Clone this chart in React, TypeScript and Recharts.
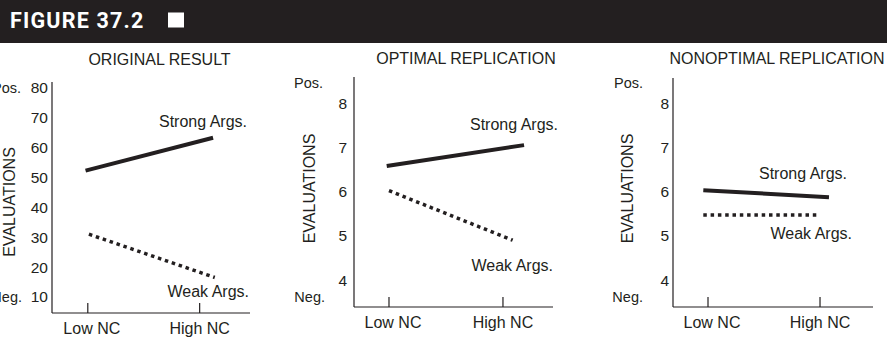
import { LineChart, Line, XAxis, YAxis } from "recharts";

// x positions: 1 = Low NC, 2 = High NC
const ncTicks = [1, 2];
const ncLabels = ["Low NC", "High NC"];

// ORIGINAL RESULT (0-80 scale)
const origTicks = [10, 20, 30, 40, 50, 60, 70, 80];
const origStrongX = [0.98, 2.12];
const origStrongY = [52.3, 63.3];
const origWeakX = [1.01, 2.135];
const origWeakY = [31.0, 16.5];

// OPTIMAL REPLICATION (4-8 scale)
const repTicks = [4, 5, 6, 7, 8];
const optStrongX = [0.98, 2.185];
const optStrongY = [6.58, 7.05];
const optWeakX = [1.0, 2.085];
const optWeakY = [6.02, 4.9];

// NONOPTIMAL REPLICATION
const nonStrongX = [0.958, 2.08];
const nonStrongY = [6.03, 5.87];
const nonWeakX = [0.958, 2.0];
const nonWeakY = [5.47, 5.47];

const INK = "#231f20";
const FONT = "'Liberation Sans', Arial, Helvetica, sans-serif";
const H = 355;

const toRows = (xs: number[], ys: number[]) =>
  xs.map((x, i) => ({ x, y: ys[i] }));

function NcTick(props: any) {
  const { x, payload, index, axisY } = props;
  return (
    <g>
      <line x1={x} x2={x} y1={axisY} y2={axisY - 10} stroke={INK} strokeWidth={1.2} />
      <text
        x={x + (index === 0 ? 4 : 0)}
        y={axisY + 15}
        textAnchor="middle"
        dominantBaseline="central"
        fontSize={16}
        fontFamily={FONT}
        fill={INK}
      >
        {ncLabels[ncTicks.indexOf(payload.value)]}
      </text>
    </g>
  );
}

interface PanelProps {
  left: number;
  width: number;
  margin: { top: number; right: number; bottom: number; left: number };
  yWidth: number;
  yGap: number;
  yDomain: [number, number];
  yTicks: number[];
  xDomain: [number, number];
  strong: { x: number; y: number }[];
  weak: { x: number; y: number }[];
}

function Panel({ left, width, margin, yWidth, yGap, yDomain, yTicks, xDomain, strong, weak }: PanelProps) {
  const axisY = H - margin.bottom - 30;
  return (
    <div style={{ position: "absolute", left, top: 0 }}>
      <LineChart width={width} height={H} margin={margin}>
        <XAxis
          type="number"
          dataKey="x"
          domain={xDomain}
          ticks={ncTicks}
          interval={0}
          height={30}
          tickLine={false}
          axisLine={{ stroke: INK, strokeWidth: 1.2 }}
          tick={(p: any) => <NcTick {...p} axisY={axisY} />}
          allowDataOverflow
        />
        <YAxis
          type="number"
          dataKey="y"
          domain={yDomain}
          ticks={yTicks}
          interval={0}
          width={yWidth}
          tickLine={false}
          tickSize={0}
          tickMargin={yGap}
          axisLine={{ stroke: INK, strokeWidth: 1.2 }}
          tick={{ fill: INK, fontSize: 15.5, fontFamily: FONT }}
          allowDataOverflow
        />
        <Line
          data={strong}
          dataKey="y"
          type="linear"
          stroke={INK}
          strokeWidth={4}
          dot={false}
          activeDot={false}
          isAnimationActive={false}
        />
        <Line
          data={weak}
          dataKey="y"
          type="linear"
          stroke={INK}
          strokeWidth={3.5}
          strokeDasharray="3.5 3.8"
          dot={false}
          activeDot={false}
          isAnimationActive={false}
        />
      </LineChart>
    </div>
  );
}

const txt = { fontFamily: FONT, fill: INK, fontSize: 16 } as const;

export default function App() {
  return (
    <div
      style={{
        position: "absolute",
        left: 0,
        top: 0,
        width: 887,
        height: H,
        background: "#fff",
        overflow: "hidden",
        fontFamily: FONT,
      }}
    >
      <Panel
        left={0}
        width={260}
        margin={{ top: 82, right: 10, bottom: 12, left: 0 }}
        yWidth={52}
        yGap={4}
        yDomain={[4.6, 82]}
        yTicks={origTicks}
        xDomain={[0.68, 2.45]}
        strong={toRows(origStrongX, origStrongY)}
        weak={toRows(origWeakX, origWeakY)}
      />
      <Panel
        left={290}
        width={275}
        margin={{ top: 77, right: 12, bottom: 18, left: 0 }}
        yWidth={64}
        yGap={7}
        yDomain={[3.39, 8.59]}
        yTicks={repTicks}
        xDomain={[0.693, 2.439]}
        strong={toRows(optStrongX, optStrongY)}
        weak={toRows(optWeakX, optWeakY)}
      />
      <Panel
        left={590}
        width={297}
        margin={{ top: 78, right: 14, bottom: 18, left: 0 }}
        yWidth={83}
        yGap={4}
        yDomain={[3.39, 8.565]}
        yTicks={repTicks}
        xDomain={[0.6875, 2.473]}
        strong={toRows(nonStrongX, nonStrongY)}
        weak={toRows(nonWeakX, nonWeakY)}
      />

      <svg width={887} height={H} style={{ position: "absolute", left: 0, top: 0, pointerEvents: "none" }}>
        <rect x={0} y={0} width={887} height={43} fill={INK} />
        <text
          x={10}
          y={27.7}
          fill="#fff"
          fontFamily="Roboto, sans-serif"
          fontWeight={700}
          fontSize={21.5}
          letterSpacing={1.2}
        >
          FIGURE 37.2
        </text>
        <rect x={168} y={12.5} width={16} height={15} fill="#fff" />

        <g dominantBaseline="central">
          <text {...txt} x={159.5} y={59} textAnchor="middle">ORIGINAL RESULT</text>
          <text {...txt} x={466} y={58} textAnchor="middle">OPTIMAL REPLICATION</text>
          <text {...txt} x={777} y={58} textAnchor="middle">NONOPTIMAL REPLICATION</text>

          <text {...txt} fontSize={14.5} x={21} y={88} textAnchor="end">Pos.</text>
          <text {...txt} fontSize={14.5} x={22} y={297} textAnchor="end">Neg.</text>
          <text {...txt} fontSize={14.5} x={323} y={83} textAnchor="end">Pos.</text>
          <text {...txt} fontSize={14.5} x={325} y={297} textAnchor="end">Neg.</text>
          <text {...txt} fontSize={14.5} x={643} y={83} textAnchor="end">Pos.</text>
          <text {...txt} fontSize={14.5} x={643} y={297} textAnchor="end">Neg.</text>

          <text {...txt} transform="translate(9,202) rotate(-90)" textAnchor="middle">EVALUATIONS</text>
          <text {...txt} transform="translate(309,188.5) rotate(-90)" textAnchor="middle">EVALUATIONS</text>
          <text {...txt} transform="translate(627.5,188.5) rotate(-90)" textAnchor="middle">EVALUATIONS</text>

          <text {...txt} x={247} y={121} textAnchor="end">Strong Args.</text>
          <text {...txt} x={249} y={291} textAnchor="end">Weak Args.</text>
          <text {...txt} x={558} y={124} textAnchor="end">Strong Args.</text>
          <text {...txt} x={553} y={265} textAnchor="end">Weak Args.</text>
          <text {...txt} x={847} y={173} textAnchor="end">Strong Args.</text>
          <text {...txt} x={852} y={233} textAnchor="end">Weak Args.</text>
        </g>
      </svg>
    </div>
  );
}
